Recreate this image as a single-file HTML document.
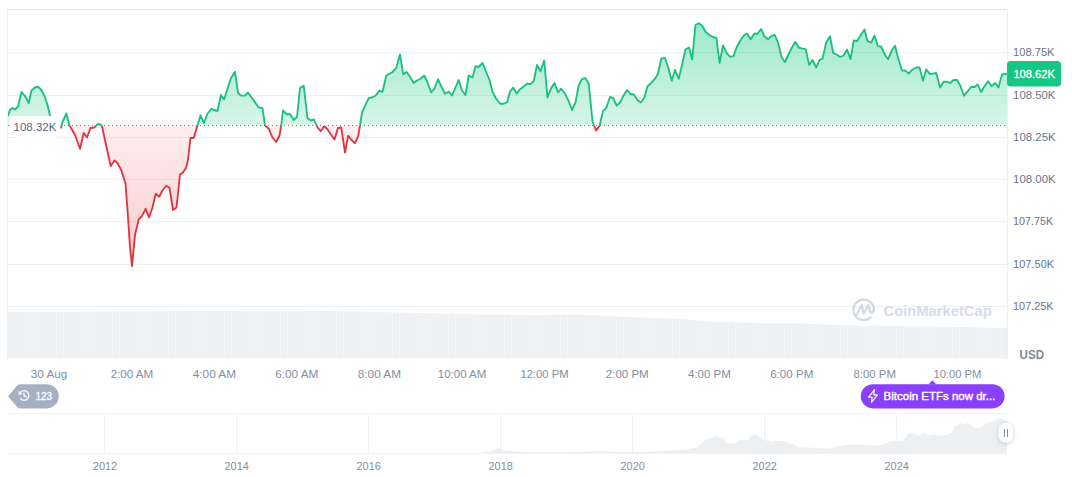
<!DOCTYPE html>
<html><head><meta charset="utf-8"><title>Chart</title>
<style>
html,body{margin:0;padding:0;background:#fff;}
body{width:1072px;height:477px;overflow:hidden;font-family:"Liberation Sans",sans-serif;}
svg{display:block;position:absolute;left:0;top:0;}
text{font-family:"Liberation Sans",sans-serif;}
</style></head><body>
<svg width="1072" height="477" viewBox="0 0 1072 477">
<defs>
<linearGradient id="gg" gradientUnits="userSpaceOnUse" x1="0" y1="20" x2="0" y2="125.5">
<stop offset="0" stop-color="#16c784" stop-opacity="0.42"/>
<stop offset="1" stop-color="#16c784" stop-opacity="0.17"/>
</linearGradient>
<linearGradient id="rg" gradientUnits="userSpaceOnUse" x1="0" y1="125.5" x2="0" y2="268">
<stop offset="0" stop-color="#ea3943" stop-opacity="0.08"/>
<stop offset="1" stop-color="#ea3943" stop-opacity="0.27"/>
</linearGradient>
<clipPath id="up"><rect x="8" y="0" width="1000" height="125.5"/></clipPath>
<clipPath id="dn"><rect x="8" y="125.5" width="1000" height="200"/></clipPath>
<pattern id="vs" patternUnits="userSpaceOnUse" width="3.5" height="10" x="8">
<rect x="0" y="0" width="3.5" height="10" fill="#eef1f4"/>
<rect x="2.9" y="0" width="0.6" height="10" fill="#f4f6f8"/>
</pattern>
<filter id="sh" x="-50%" y="-50%" width="200%" height="200%">
<feDropShadow dx="0" dy="1" stdDeviation="2.2" flood-color="#58667e" flood-opacity="0.32"/>
</filter>
</defs>

<line x1="8" y1="9.5" x2="1007" y2="9.5" stroke="#e6e7ea" stroke-width="1"/>
<line x1="8" y1="52.5" x2="1007" y2="52.5" stroke="#eeeff1" stroke-width="1"/>
<line x1="8" y1="95.5" x2="1007" y2="95.5" stroke="#eeeff1" stroke-width="1"/>
<line x1="8" y1="137.5" x2="1007" y2="137.5" stroke="#eeeff1" stroke-width="1"/>
<line x1="8" y1="179.5" x2="1007" y2="179.5" stroke="#eeeff1" stroke-width="1"/>
<line x1="8" y1="221.5" x2="1007" y2="221.5" stroke="#eeeff1" stroke-width="1"/>
<line x1="8" y1="264.5" x2="1007" y2="264.5" stroke="#eeeff1" stroke-width="1"/>
<line x1="8" y1="306.5" x2="1007" y2="306.5" stroke="#eeeff1" stroke-width="1"/>
<line x1="7.5" y1="9" x2="7.5" y2="359" stroke="#eeeff1" stroke-width="1"/>
<line x1="1007.5" y1="9" x2="1007.5" y2="359" stroke="#eceef1" stroke-width="1"/>
<path d="M8,358.5 L8,312 L60,312 L120,311.5 L200,311 L260,310.5 L300,310.5 L357,311.5 L420,313 L480,314.5 L540,315 L575,314.5 L620,316.5 L680,319 L714,321.5 L760,323 L800,323.5 L840,325 L900,326 L960,327 L1007,328 L1007,358.5 Z" fill="url(#vs)"/>
<g fill="none" stroke="#d3d8e3" stroke-width="2.3" stroke-linecap="round" stroke-linejoin="round">
<path d="M870.6,317.4 A10.2,10.2 0 1 1 873.9,310 C873.6,312.6 871,313.6 869.9,311 L868.5,305.2 L863.6,313.6 L861.9,304.8 L856.7,314.5"/>
</g>
<text x="883.5" y="315.5" font-size="14.4" font-weight="bold" fill="#d8dce6" textLength="108.2" lengthAdjust="spacingAndGlyphs">CoinMarketCap</text>
<path d="M8,115.5 L10,110 L12.5,108 L15,109.5 L18,106.5 L21.5,92 L25,96 L28.7,103 L31.5,90.5 L35,87.5 L38,86.7 L41,89.5 L44.5,96 L47.5,105 L50,115.5 L52,121 L56,123 L61.1,127.8 L62.5,122 L66.3,113.5 L69.5,125.2 L75,135 L80,148.7 L83.7,133 L87,137.5 L90.5,128 L94.5,127.5 L97.5,124.2 L100,124.2 L102,126 L106,145 L110.7,166 L114.5,160.5 L117.5,163 L121.2,170 L125.5,183.7 L127.5,210 L130,247.5 L132,266.2 L135,235 L138.7,219.5 L142,216.2 L145.7,208.7 L149,217.5 L152.5,207.5 L155.7,193.7 L159.2,196.7 L162.5,190.5 L166.2,185.7 L169.5,188 L173,210 L176.5,207.5 L180,174.5 L183,172.5 L186.2,167.5 L188,160 L190.5,138 L193.7,138 L197.5,125.5 L200.5,115.5 L204,123 L207.5,113.7 L211,109 L214.5,110 L217.5,111 L221,95 L224,99.5 L231,78 L235,71.7 L238,93 L241,95.5 L245,95.7 L248,92.5 L252.5,98.7 L258.7,107.5 L262.5,108.2 L265,125.5 L268.7,128.7 L272.5,137.5 L276.2,142 L279.5,135.5 L281.2,125.5 L283,110.5 L287,114.5 L290,114 L293.7,120 L297,117 L300,88 L303.7,85.7 L307.5,118 L310.7,120.5 L314,119.5 L317.5,127.5 L320.7,131.2 L324.2,126.2 L327.5,129.2 L331.2,135 L334.5,139.5 L338,128 L341.2,127.5 L345,152.5 L348.2,135.7 L351.5,140 L355,143.2 L358.2,136.2 L360,125.5 L362,112.5 L365,106.2 L368.7,98.2 L372,97.5 L375.5,95.7 L379.5,90.7 L382.5,92 L386.2,75.7 L389.5,73.7 L392.5,72 L396.2,68.2 L400,54.5 L403.2,74.2 L406.7,72 L410,76.7 L413.7,83 L417,80.5 L420.5,78.7 L424.2,75.5 L427.5,82.5 L431.2,92.5 L434.5,88.7 L438,79.2 L441.5,87 L445,93.7 L448.7,91.7 L452,95.5 L455.5,87.5 L458.7,80 L462,90.5 L465.5,95 L468.7,75.5 L472.5,77.5 L475.5,66.2 L478.7,67 L482.5,63 L486.2,72 L489.5,80 L492.5,91.7 L496.2,98.7 L500,103.7 L503.7,103.7 L507,102.5 L510,91.7 L513.2,87.5 L516.7,93.7 L520,89.2 L523.7,86.5 L527,83.7 L530.5,84.2 L533.7,81.2 L537,65 L540.5,71.2 L544.2,60.5 L547.5,97.5 L551.2,88 L554.5,83 L558,92.5 L561.2,88.7 L565,93.7 L568.7,101.2 L572,110 L575.5,102.5 L578.7,85 L582,79.2 L585.5,78.2 L588.7,83.7 L592.5,121.2 L594.2,126.2 L596.2,130.5 L599.5,125.7 L603,111.2 L606.2,108 L610,97 L613.2,98 L616.7,105.7 L620,102.5 L623.2,96.2 L627,90 L630.5,94.2 L633.7,94.2 L637.5,100 L640.7,102.5 L644.2,98 L647.5,86.2 L651.2,83 L655,78.7 L658,73.7 L661.2,58.7 L665,58 L668.2,67.5 L671.7,80.7 L675,70 L678.7,78.7 L682,65 L685.5,49.5 L689,47.5 L692.2,59.5 L695.5,25 L698.7,23.2 L702,25.5 L705.7,32 L709.5,35 L713,37 L716.4,38 L719.6,63 L723,45.5 L726.8,53.4 L730.2,56.8 L733.4,56.2 L737.2,46.2 L740.8,39.8 L744,35.2 L747.2,33.7 L750.7,39.3 L754.2,33.7 L757.5,33.7 L761,29 L764.5,36.5 L768,39.3 L771.2,36.2 L774.7,34.8 L778.2,43 L781.7,57.5 L785,62 L788.2,55 L792,47.5 L795.2,41.7 L798.7,47.5 L802.5,48.7 L805.7,49.2 L809.2,65 L812.5,60 L816.2,67.5 L819.5,60 L822.5,58.7 L826.2,42.5 L830,36.2 L833.2,53 L836.7,54.5 L840,57 L843.7,55.5 L847,49.5 L850.5,59.2 L853.7,40.5 L857,41.2 L860.7,35 L864.5,29.5 L867.5,41.2 L871.2,42.5 L874.5,35.7 L878,46.2 L881.2,46.7 L885,55 L888.2,59.2 L891.7,50.5 L895,45.7 L898.7,60 L902,70.5 L905.5,70.7 L908.7,73.7 L912.5,69.5 L916.2,67.5 L919.5,67.5 L923,80.7 L926.2,69.5 L930,74.2 L933.2,73.7 L936.2,73 L940,87.5 L943.6,81.7 L946.5,81.7 L950.2,83 L953.5,80 L957,80 L960.2,85.5 L964,95.7 L967.7,91.2 L971,87 L974.5,87 L977.7,84.5 L981,92 L984.5,86.2 L988,81.2 L991.5,86.2 L995.2,83 L998.5,87.5 L1002,74.5 L1007,73.7 L1007,125.5 L8,125.5 Z" fill="url(#gg)" clip-path="url(#up)"/>
<path d="M8,115.5 L10,110 L12.5,108 L15,109.5 L18,106.5 L21.5,92 L25,96 L28.7,103 L31.5,90.5 L35,87.5 L38,86.7 L41,89.5 L44.5,96 L47.5,105 L50,115.5 L52,121 L56,123 L61.1,127.8 L62.5,122 L66.3,113.5 L69.5,125.2 L75,135 L80,148.7 L83.7,133 L87,137.5 L90.5,128 L94.5,127.5 L97.5,124.2 L100,124.2 L102,126 L106,145 L110.7,166 L114.5,160.5 L117.5,163 L121.2,170 L125.5,183.7 L127.5,210 L130,247.5 L132,266.2 L135,235 L138.7,219.5 L142,216.2 L145.7,208.7 L149,217.5 L152.5,207.5 L155.7,193.7 L159.2,196.7 L162.5,190.5 L166.2,185.7 L169.5,188 L173,210 L176.5,207.5 L180,174.5 L183,172.5 L186.2,167.5 L188,160 L190.5,138 L193.7,138 L197.5,125.5 L200.5,115.5 L204,123 L207.5,113.7 L211,109 L214.5,110 L217.5,111 L221,95 L224,99.5 L231,78 L235,71.7 L238,93 L241,95.5 L245,95.7 L248,92.5 L252.5,98.7 L258.7,107.5 L262.5,108.2 L265,125.5 L268.7,128.7 L272.5,137.5 L276.2,142 L279.5,135.5 L281.2,125.5 L283,110.5 L287,114.5 L290,114 L293.7,120 L297,117 L300,88 L303.7,85.7 L307.5,118 L310.7,120.5 L314,119.5 L317.5,127.5 L320.7,131.2 L324.2,126.2 L327.5,129.2 L331.2,135 L334.5,139.5 L338,128 L341.2,127.5 L345,152.5 L348.2,135.7 L351.5,140 L355,143.2 L358.2,136.2 L360,125.5 L362,112.5 L365,106.2 L368.7,98.2 L372,97.5 L375.5,95.7 L379.5,90.7 L382.5,92 L386.2,75.7 L389.5,73.7 L392.5,72 L396.2,68.2 L400,54.5 L403.2,74.2 L406.7,72 L410,76.7 L413.7,83 L417,80.5 L420.5,78.7 L424.2,75.5 L427.5,82.5 L431.2,92.5 L434.5,88.7 L438,79.2 L441.5,87 L445,93.7 L448.7,91.7 L452,95.5 L455.5,87.5 L458.7,80 L462,90.5 L465.5,95 L468.7,75.5 L472.5,77.5 L475.5,66.2 L478.7,67 L482.5,63 L486.2,72 L489.5,80 L492.5,91.7 L496.2,98.7 L500,103.7 L503.7,103.7 L507,102.5 L510,91.7 L513.2,87.5 L516.7,93.7 L520,89.2 L523.7,86.5 L527,83.7 L530.5,84.2 L533.7,81.2 L537,65 L540.5,71.2 L544.2,60.5 L547.5,97.5 L551.2,88 L554.5,83 L558,92.5 L561.2,88.7 L565,93.7 L568.7,101.2 L572,110 L575.5,102.5 L578.7,85 L582,79.2 L585.5,78.2 L588.7,83.7 L592.5,121.2 L594.2,126.2 L596.2,130.5 L599.5,125.7 L603,111.2 L606.2,108 L610,97 L613.2,98 L616.7,105.7 L620,102.5 L623.2,96.2 L627,90 L630.5,94.2 L633.7,94.2 L637.5,100 L640.7,102.5 L644.2,98 L647.5,86.2 L651.2,83 L655,78.7 L658,73.7 L661.2,58.7 L665,58 L668.2,67.5 L671.7,80.7 L675,70 L678.7,78.7 L682,65 L685.5,49.5 L689,47.5 L692.2,59.5 L695.5,25 L698.7,23.2 L702,25.5 L705.7,32 L709.5,35 L713,37 L716.4,38 L719.6,63 L723,45.5 L726.8,53.4 L730.2,56.8 L733.4,56.2 L737.2,46.2 L740.8,39.8 L744,35.2 L747.2,33.7 L750.7,39.3 L754.2,33.7 L757.5,33.7 L761,29 L764.5,36.5 L768,39.3 L771.2,36.2 L774.7,34.8 L778.2,43 L781.7,57.5 L785,62 L788.2,55 L792,47.5 L795.2,41.7 L798.7,47.5 L802.5,48.7 L805.7,49.2 L809.2,65 L812.5,60 L816.2,67.5 L819.5,60 L822.5,58.7 L826.2,42.5 L830,36.2 L833.2,53 L836.7,54.5 L840,57 L843.7,55.5 L847,49.5 L850.5,59.2 L853.7,40.5 L857,41.2 L860.7,35 L864.5,29.5 L867.5,41.2 L871.2,42.5 L874.5,35.7 L878,46.2 L881.2,46.7 L885,55 L888.2,59.2 L891.7,50.5 L895,45.7 L898.7,60 L902,70.5 L905.5,70.7 L908.7,73.7 L912.5,69.5 L916.2,67.5 L919.5,67.5 L923,80.7 L926.2,69.5 L930,74.2 L933.2,73.7 L936.2,73 L940,87.5 L943.6,81.7 L946.5,81.7 L950.2,83 L953.5,80 L957,80 L960.2,85.5 L964,95.7 L967.7,91.2 L971,87 L974.5,87 L977.7,84.5 L981,92 L984.5,86.2 L988,81.2 L991.5,86.2 L995.2,83 L998.5,87.5 L1002,74.5 L1007,73.7 L1007,125.5 L8,125.5 Z" fill="url(#rg)" clip-path="url(#dn)"/>
<line x1="8" y1="125.5" x2="1007" y2="125.5" stroke="#7c8286" stroke-width="1" stroke-dasharray="1 3"/>
<path d="M8,115.5 L10,110 L12.5,108 L15,109.5 L18,106.5 L21.5,92 L25,96 L28.7,103 L31.5,90.5 L35,87.5 L38,86.7 L41,89.5 L44.5,96 L47.5,105 L50,115.5 L52,121 L56,123 L61.1,127.8 L62.5,122 L66.3,113.5 L69.5,125.2 L75,135 L80,148.7 L83.7,133 L87,137.5 L90.5,128 L94.5,127.5 L97.5,124.2 L100,124.2 L102,126 L106,145 L110.7,166 L114.5,160.5 L117.5,163 L121.2,170 L125.5,183.7 L127.5,210 L130,247.5 L132,266.2 L135,235 L138.7,219.5 L142,216.2 L145.7,208.7 L149,217.5 L152.5,207.5 L155.7,193.7 L159.2,196.7 L162.5,190.5 L166.2,185.7 L169.5,188 L173,210 L176.5,207.5 L180,174.5 L183,172.5 L186.2,167.5 L188,160 L190.5,138 L193.7,138 L197.5,125.5 L200.5,115.5 L204,123 L207.5,113.7 L211,109 L214.5,110 L217.5,111 L221,95 L224,99.5 L231,78 L235,71.7 L238,93 L241,95.5 L245,95.7 L248,92.5 L252.5,98.7 L258.7,107.5 L262.5,108.2 L265,125.5 L268.7,128.7 L272.5,137.5 L276.2,142 L279.5,135.5 L281.2,125.5 L283,110.5 L287,114.5 L290,114 L293.7,120 L297,117 L300,88 L303.7,85.7 L307.5,118 L310.7,120.5 L314,119.5 L317.5,127.5 L320.7,131.2 L324.2,126.2 L327.5,129.2 L331.2,135 L334.5,139.5 L338,128 L341.2,127.5 L345,152.5 L348.2,135.7 L351.5,140 L355,143.2 L358.2,136.2 L360,125.5 L362,112.5 L365,106.2 L368.7,98.2 L372,97.5 L375.5,95.7 L379.5,90.7 L382.5,92 L386.2,75.7 L389.5,73.7 L392.5,72 L396.2,68.2 L400,54.5 L403.2,74.2 L406.7,72 L410,76.7 L413.7,83 L417,80.5 L420.5,78.7 L424.2,75.5 L427.5,82.5 L431.2,92.5 L434.5,88.7 L438,79.2 L441.5,87 L445,93.7 L448.7,91.7 L452,95.5 L455.5,87.5 L458.7,80 L462,90.5 L465.5,95 L468.7,75.5 L472.5,77.5 L475.5,66.2 L478.7,67 L482.5,63 L486.2,72 L489.5,80 L492.5,91.7 L496.2,98.7 L500,103.7 L503.7,103.7 L507,102.5 L510,91.7 L513.2,87.5 L516.7,93.7 L520,89.2 L523.7,86.5 L527,83.7 L530.5,84.2 L533.7,81.2 L537,65 L540.5,71.2 L544.2,60.5 L547.5,97.5 L551.2,88 L554.5,83 L558,92.5 L561.2,88.7 L565,93.7 L568.7,101.2 L572,110 L575.5,102.5 L578.7,85 L582,79.2 L585.5,78.2 L588.7,83.7 L592.5,121.2 L594.2,126.2 L596.2,130.5 L599.5,125.7 L603,111.2 L606.2,108 L610,97 L613.2,98 L616.7,105.7 L620,102.5 L623.2,96.2 L627,90 L630.5,94.2 L633.7,94.2 L637.5,100 L640.7,102.5 L644.2,98 L647.5,86.2 L651.2,83 L655,78.7 L658,73.7 L661.2,58.7 L665,58 L668.2,67.5 L671.7,80.7 L675,70 L678.7,78.7 L682,65 L685.5,49.5 L689,47.5 L692.2,59.5 L695.5,25 L698.7,23.2 L702,25.5 L705.7,32 L709.5,35 L713,37 L716.4,38 L719.6,63 L723,45.5 L726.8,53.4 L730.2,56.8 L733.4,56.2 L737.2,46.2 L740.8,39.8 L744,35.2 L747.2,33.7 L750.7,39.3 L754.2,33.7 L757.5,33.7 L761,29 L764.5,36.5 L768,39.3 L771.2,36.2 L774.7,34.8 L778.2,43 L781.7,57.5 L785,62 L788.2,55 L792,47.5 L795.2,41.7 L798.7,47.5 L802.5,48.7 L805.7,49.2 L809.2,65 L812.5,60 L816.2,67.5 L819.5,60 L822.5,58.7 L826.2,42.5 L830,36.2 L833.2,53 L836.7,54.5 L840,57 L843.7,55.5 L847,49.5 L850.5,59.2 L853.7,40.5 L857,41.2 L860.7,35 L864.5,29.5 L867.5,41.2 L871.2,42.5 L874.5,35.7 L878,46.2 L881.2,46.7 L885,55 L888.2,59.2 L891.7,50.5 L895,45.7 L898.7,60 L902,70.5 L905.5,70.7 L908.7,73.7 L912.5,69.5 L916.2,67.5 L919.5,67.5 L923,80.7 L926.2,69.5 L930,74.2 L933.2,73.7 L936.2,73 L940,87.5 L943.6,81.7 L946.5,81.7 L950.2,83 L953.5,80 L957,80 L960.2,85.5 L964,95.7 L967.7,91.2 L971,87 L974.5,87 L977.7,84.5 L981,92 L984.5,86.2 L988,81.2 L991.5,86.2 L995.2,83 L998.5,87.5 L1002,74.5 L1007,73.7" fill="none" stroke="#19c181" stroke-width="1.85" stroke-linejoin="round" stroke-linecap="round" clip-path="url(#up)"/>
<path d="M8,115.5 L10,110 L12.5,108 L15,109.5 L18,106.5 L21.5,92 L25,96 L28.7,103 L31.5,90.5 L35,87.5 L38,86.7 L41,89.5 L44.5,96 L47.5,105 L50,115.5 L52,121 L56,123 L61.1,127.8 L62.5,122 L66.3,113.5 L69.5,125.2 L75,135 L80,148.7 L83.7,133 L87,137.5 L90.5,128 L94.5,127.5 L97.5,124.2 L100,124.2 L102,126 L106,145 L110.7,166 L114.5,160.5 L117.5,163 L121.2,170 L125.5,183.7 L127.5,210 L130,247.5 L132,266.2 L135,235 L138.7,219.5 L142,216.2 L145.7,208.7 L149,217.5 L152.5,207.5 L155.7,193.7 L159.2,196.7 L162.5,190.5 L166.2,185.7 L169.5,188 L173,210 L176.5,207.5 L180,174.5 L183,172.5 L186.2,167.5 L188,160 L190.5,138 L193.7,138 L197.5,125.5 L200.5,115.5 L204,123 L207.5,113.7 L211,109 L214.5,110 L217.5,111 L221,95 L224,99.5 L231,78 L235,71.7 L238,93 L241,95.5 L245,95.7 L248,92.5 L252.5,98.7 L258.7,107.5 L262.5,108.2 L265,125.5 L268.7,128.7 L272.5,137.5 L276.2,142 L279.5,135.5 L281.2,125.5 L283,110.5 L287,114.5 L290,114 L293.7,120 L297,117 L300,88 L303.7,85.7 L307.5,118 L310.7,120.5 L314,119.5 L317.5,127.5 L320.7,131.2 L324.2,126.2 L327.5,129.2 L331.2,135 L334.5,139.5 L338,128 L341.2,127.5 L345,152.5 L348.2,135.7 L351.5,140 L355,143.2 L358.2,136.2 L360,125.5 L362,112.5 L365,106.2 L368.7,98.2 L372,97.5 L375.5,95.7 L379.5,90.7 L382.5,92 L386.2,75.7 L389.5,73.7 L392.5,72 L396.2,68.2 L400,54.5 L403.2,74.2 L406.7,72 L410,76.7 L413.7,83 L417,80.5 L420.5,78.7 L424.2,75.5 L427.5,82.5 L431.2,92.5 L434.5,88.7 L438,79.2 L441.5,87 L445,93.7 L448.7,91.7 L452,95.5 L455.5,87.5 L458.7,80 L462,90.5 L465.5,95 L468.7,75.5 L472.5,77.5 L475.5,66.2 L478.7,67 L482.5,63 L486.2,72 L489.5,80 L492.5,91.7 L496.2,98.7 L500,103.7 L503.7,103.7 L507,102.5 L510,91.7 L513.2,87.5 L516.7,93.7 L520,89.2 L523.7,86.5 L527,83.7 L530.5,84.2 L533.7,81.2 L537,65 L540.5,71.2 L544.2,60.5 L547.5,97.5 L551.2,88 L554.5,83 L558,92.5 L561.2,88.7 L565,93.7 L568.7,101.2 L572,110 L575.5,102.5 L578.7,85 L582,79.2 L585.5,78.2 L588.7,83.7 L592.5,121.2 L594.2,126.2 L596.2,130.5 L599.5,125.7 L603,111.2 L606.2,108 L610,97 L613.2,98 L616.7,105.7 L620,102.5 L623.2,96.2 L627,90 L630.5,94.2 L633.7,94.2 L637.5,100 L640.7,102.5 L644.2,98 L647.5,86.2 L651.2,83 L655,78.7 L658,73.7 L661.2,58.7 L665,58 L668.2,67.5 L671.7,80.7 L675,70 L678.7,78.7 L682,65 L685.5,49.5 L689,47.5 L692.2,59.5 L695.5,25 L698.7,23.2 L702,25.5 L705.7,32 L709.5,35 L713,37 L716.4,38 L719.6,63 L723,45.5 L726.8,53.4 L730.2,56.8 L733.4,56.2 L737.2,46.2 L740.8,39.8 L744,35.2 L747.2,33.7 L750.7,39.3 L754.2,33.7 L757.5,33.7 L761,29 L764.5,36.5 L768,39.3 L771.2,36.2 L774.7,34.8 L778.2,43 L781.7,57.5 L785,62 L788.2,55 L792,47.5 L795.2,41.7 L798.7,47.5 L802.5,48.7 L805.7,49.2 L809.2,65 L812.5,60 L816.2,67.5 L819.5,60 L822.5,58.7 L826.2,42.5 L830,36.2 L833.2,53 L836.7,54.5 L840,57 L843.7,55.5 L847,49.5 L850.5,59.2 L853.7,40.5 L857,41.2 L860.7,35 L864.5,29.5 L867.5,41.2 L871.2,42.5 L874.5,35.7 L878,46.2 L881.2,46.7 L885,55 L888.2,59.2 L891.7,50.5 L895,45.7 L898.7,60 L902,70.5 L905.5,70.7 L908.7,73.7 L912.5,69.5 L916.2,67.5 L919.5,67.5 L923,80.7 L926.2,69.5 L930,74.2 L933.2,73.7 L936.2,73 L940,87.5 L943.6,81.7 L946.5,81.7 L950.2,83 L953.5,80 L957,80 L960.2,85.5 L964,95.7 L967.7,91.2 L971,87 L974.5,87 L977.7,84.5 L981,92 L984.5,86.2 L988,81.2 L991.5,86.2 L995.2,83 L998.5,87.5 L1002,74.5 L1007,73.7" fill="none" stroke="#e0363f" stroke-width="1.85" stroke-linejoin="round" stroke-linecap="round" clip-path="url(#dn)"/>
<rect x="9.5" y="116" width="50.9" height="21" rx="1.5" fill="#ffffff"/>
<rect x="15.7" y="136" width="41" height="2.6" fill="#ffffff"/>
<text x="13.6" y="130.8" font-size="11" fill="#58667e" textLength="42.7" lengthAdjust="spacingAndGlyphs">108.32K</text>
<text x="1013.1" y="55.9" font-size="11" fill="#67738a" textLength="41.4" lengthAdjust="spacingAndGlyphs">108.75K</text>
<text x="1013.1" y="98.9" font-size="11" fill="#67738a" textLength="42.2" lengthAdjust="spacingAndGlyphs">108.50K</text>
<text x="1013.1" y="140.9" font-size="11" fill="#67738a" textLength="42.6" lengthAdjust="spacingAndGlyphs">108.25K</text>
<text x="1013.1" y="182.9" font-size="11" fill="#67738a" textLength="42.6" lengthAdjust="spacingAndGlyphs">108.00K</text>
<text x="1013.1" y="224.9" font-size="11" fill="#67738a" textLength="40" lengthAdjust="spacingAndGlyphs">107.75K</text>
<text x="1013.1" y="267.9" font-size="11" fill="#67738a" textLength="41" lengthAdjust="spacingAndGlyphs">107.50K</text>
<text x="1013.1" y="309.9" font-size="11" fill="#67738a" textLength="40.4" lengthAdjust="spacingAndGlyphs">107.25K</text>
<rect x="1007" y="61" width="54" height="25.5" rx="3.5" fill="#16c784"/>
<text x="1013.4" y="77.6" font-size="11" fill="#ffffff" stroke="#ffffff" stroke-width="0.3" textLength="41.6" lengthAdjust="spacingAndGlyphs">108.62K</text>
<text x="1019.6" y="359.2" font-size="12" font-weight="bold" fill="#808a9d" textLength="24.4" lengthAdjust="spacingAndGlyphs">USD</text>
<text x="30.8" y="377.8" font-size="11" fill="#858e9f" textLength="36.5" lengthAdjust="spacingAndGlyphs">30 Aug</text>
<text x="110.7" y="377.8" font-size="11" fill="#858e9f" textLength="42.6" lengthAdjust="spacingAndGlyphs">2:00 AM</text>
<text x="192.8" y="377.8" font-size="11" fill="#858e9f" textLength="43.2" lengthAdjust="spacingAndGlyphs">4:00 AM</text>
<text x="275.2" y="377.8" font-size="11" fill="#858e9f" textLength="43.2" lengthAdjust="spacingAndGlyphs">6:00 AM</text>
<text x="357.8" y="377.8" font-size="11" fill="#858e9f" textLength="43.2" lengthAdjust="spacingAndGlyphs">8:00 AM</text>
<text x="437.8" y="377.8" font-size="11" fill="#858e9f" textLength="48.5" lengthAdjust="spacingAndGlyphs">10:00 AM</text>
<text x="520.4" y="377.8" font-size="11" fill="#858e9f" textLength="48.3" lengthAdjust="spacingAndGlyphs">12:00 PM</text>
<text x="605.8" y="377.8" font-size="11" fill="#858e9f" textLength="42.9" lengthAdjust="spacingAndGlyphs">2:00 PM</text>
<text x="688" y="377.8" font-size="11" fill="#858e9f" textLength="42.9" lengthAdjust="spacingAndGlyphs">4:00 PM</text>
<text x="770.2" y="377.8" font-size="11" fill="#858e9f" textLength="43.1" lengthAdjust="spacingAndGlyphs">6:00 PM</text>
<text x="853.4" y="377.8" font-size="11" fill="#858e9f" textLength="42.6" lengthAdjust="spacingAndGlyphs">8:00 PM</text>
<text x="933.4" y="377.8" font-size="11" fill="#858e9f" textLength="48" lengthAdjust="spacingAndGlyphs">10:00 PM</text>
<path d="M8.1,396.3 L17.2,385.6 Q18.4,384.2 20.4,384.2 L46.7,384.2 A12.1,12.1 0 0 1 46.7,408.4 L20.4,408.4 Q18.4,408.4 17.2,407 Z" fill="#a6b0c3"/>
<g fill="none" stroke="#ffffff" stroke-width="1.25" stroke-linecap="round" stroke-linejoin="round" transform="translate(0,-0.9)">
<path d="M19.5,394.8 A4.8,4.8 0 1 1 20.6,399.7"/>
<path d="M18.9,392.6 L19.4,394.9 L21.7,394.5"/>
<path d="M24,393.7 L24,396.5 L26.2,397.9"/>
</g>
<text x="35.4" y="399.9" font-size="11" fill="#ffffff" stroke="#ffffff" stroke-width="0.3" textLength="16.8" lengthAdjust="spacingAndGlyphs">123</text>
<path d="M928.4,384.6 L932.4,380.2 L936.4,384.6 Z" fill="#8a3ffc"/>
<rect x="860.8" y="384.2" width="143.8" height="24.2" rx="12.1" fill="#8a3ffc"/>
<path d="M874.5,389.7 L868.6,397.1 L872.2,397.1 L871.5,402.3 L877.4,394.9 L873.7,394.9 Z" fill="none" stroke="#ffffff" stroke-width="1.15" stroke-linejoin="round"/>
<text x="883.6" y="399.9" font-size="11" fill="#ffffff" stroke="#ffffff" stroke-width="0.4" textLength="111.8" lengthAdjust="spacingAndGlyphs">Bitcoin ETFs now dr...</text>
<line x1="8" y1="413.5" x2="1008" y2="413.5" stroke="#f2f3f4" stroke-width="1"/>
<line x1="104.5" y1="415" x2="104.5" y2="453.5" stroke="#f0f1f3" stroke-width="1"/>
<line x1="236.5" y1="415" x2="236.5" y2="453.5" stroke="#f0f1f3" stroke-width="1"/>
<line x1="368.5" y1="415" x2="368.5" y2="453.5" stroke="#f0f1f3" stroke-width="1"/>
<line x1="500.5" y1="415" x2="500.5" y2="453.5" stroke="#f0f1f3" stroke-width="1"/>
<line x1="632.5" y1="415" x2="632.5" y2="453.5" stroke="#f0f1f3" stroke-width="1"/>
<line x1="764.5" y1="415" x2="764.5" y2="453.5" stroke="#f0f1f3" stroke-width="1"/>
<line x1="896.5" y1="415" x2="896.5" y2="453.5" stroke="#f0f1f3" stroke-width="1"/>
<path d="M8,453.5 L8,453.2 L440,453.2 L480,453 L490,451.5 L497.5,448.5 L503,450 L510,451 L530,452.3 L560,452.5 L585,451.5 L600,451 L615,451.7 L632,452 L650,451.5 L670,450.8 L687.8,449.2 L693,448 L697,447 L700.9,444 L703.5,441.5 L706.1,439.4 L708.5,439 L711.3,436.8 L714,436.6 L717.2,435.5 L720,437.2 L723.1,438.1 L725.7,442 L729.6,443.3 L734.9,444 L737.5,440.7 L742.7,439.4 L747.9,440 L750.5,436.1 L753,435.2 L755.1,433.9 L757.5,435.8 L759.7,436.8 L763.6,439.4 L768.8,441.3 L771.4,442 L776.6,440.7 L781.9,440.7 L787.1,442.6 L793.6,444.6 L797.5,447.2 L805.4,447.2 L812,447.8 L823,448.5 L830.9,448.5 L836.1,446.6 L847.9,444.6 L862.2,444.6 L872.7,445.5 L880.5,445.3 L885.7,443.3 L893.6,440.7 L900.1,440.7 L902.7,441.3 L906.6,436.1 L909.9,432.5 L914.5,434.2 L919.7,435.5 L923.6,432.9 L927.5,434.8 L930,435.5 L935.2,434.2 L940.4,436.1 L947,434.8 L951.5,432.9 L954.2,427 L958.1,424.4 L961.3,423.1 L964,424.6 L967.2,423.1 L970.5,425 L974.4,427.6 L979.6,428.3 L982.2,427 L986.2,423.1 L991.4,421.8 L995.3,421.1 L997.9,418.5 L1000.5,418.1 L1004.4,419.8 L1007,420.4 L1007,453.5 Z" fill="#edf0f3"/>
<line x1="8" y1="453.5" x2="1007" y2="453.5" stroke="#f0f1f3" stroke-width="1"/>
<text x="105" y="470" font-size="11" fill="#858e9f" text-anchor="middle" textLength="24.4" lengthAdjust="spacingAndGlyphs">2012</text>
<text x="236.7" y="470" font-size="11" fill="#858e9f" text-anchor="middle" textLength="24.4" lengthAdjust="spacingAndGlyphs">2014</text>
<text x="368.7" y="470" font-size="11" fill="#858e9f" text-anchor="middle" textLength="24.4" lengthAdjust="spacingAndGlyphs">2016</text>
<text x="500.7" y="470" font-size="11" fill="#858e9f" text-anchor="middle" textLength="24.4" lengthAdjust="spacingAndGlyphs">2018</text>
<text x="632.7" y="470" font-size="11" fill="#858e9f" text-anchor="middle" textLength="24.4" lengthAdjust="spacingAndGlyphs">2020</text>
<text x="764.7" y="470" font-size="11" fill="#858e9f" text-anchor="middle" textLength="24.4" lengthAdjust="spacingAndGlyphs">2022</text>
<text x="896.7" y="470" font-size="11" fill="#858e9f" text-anchor="middle" textLength="24.4" lengthAdjust="spacingAndGlyphs">2024</text>
<rect x="998.5" y="423.1" width="14.5" height="19.3" rx="6.5" fill="#ffffff" filter="url(#sh)"/>
<line x1="1004.5" y1="429" x2="1004.5" y2="437" stroke="#868c98" stroke-width="1"/>
<line x1="1007.5" y1="429" x2="1007.5" y2="437" stroke="#868c98" stroke-width="1"/>
</svg></body></html>
